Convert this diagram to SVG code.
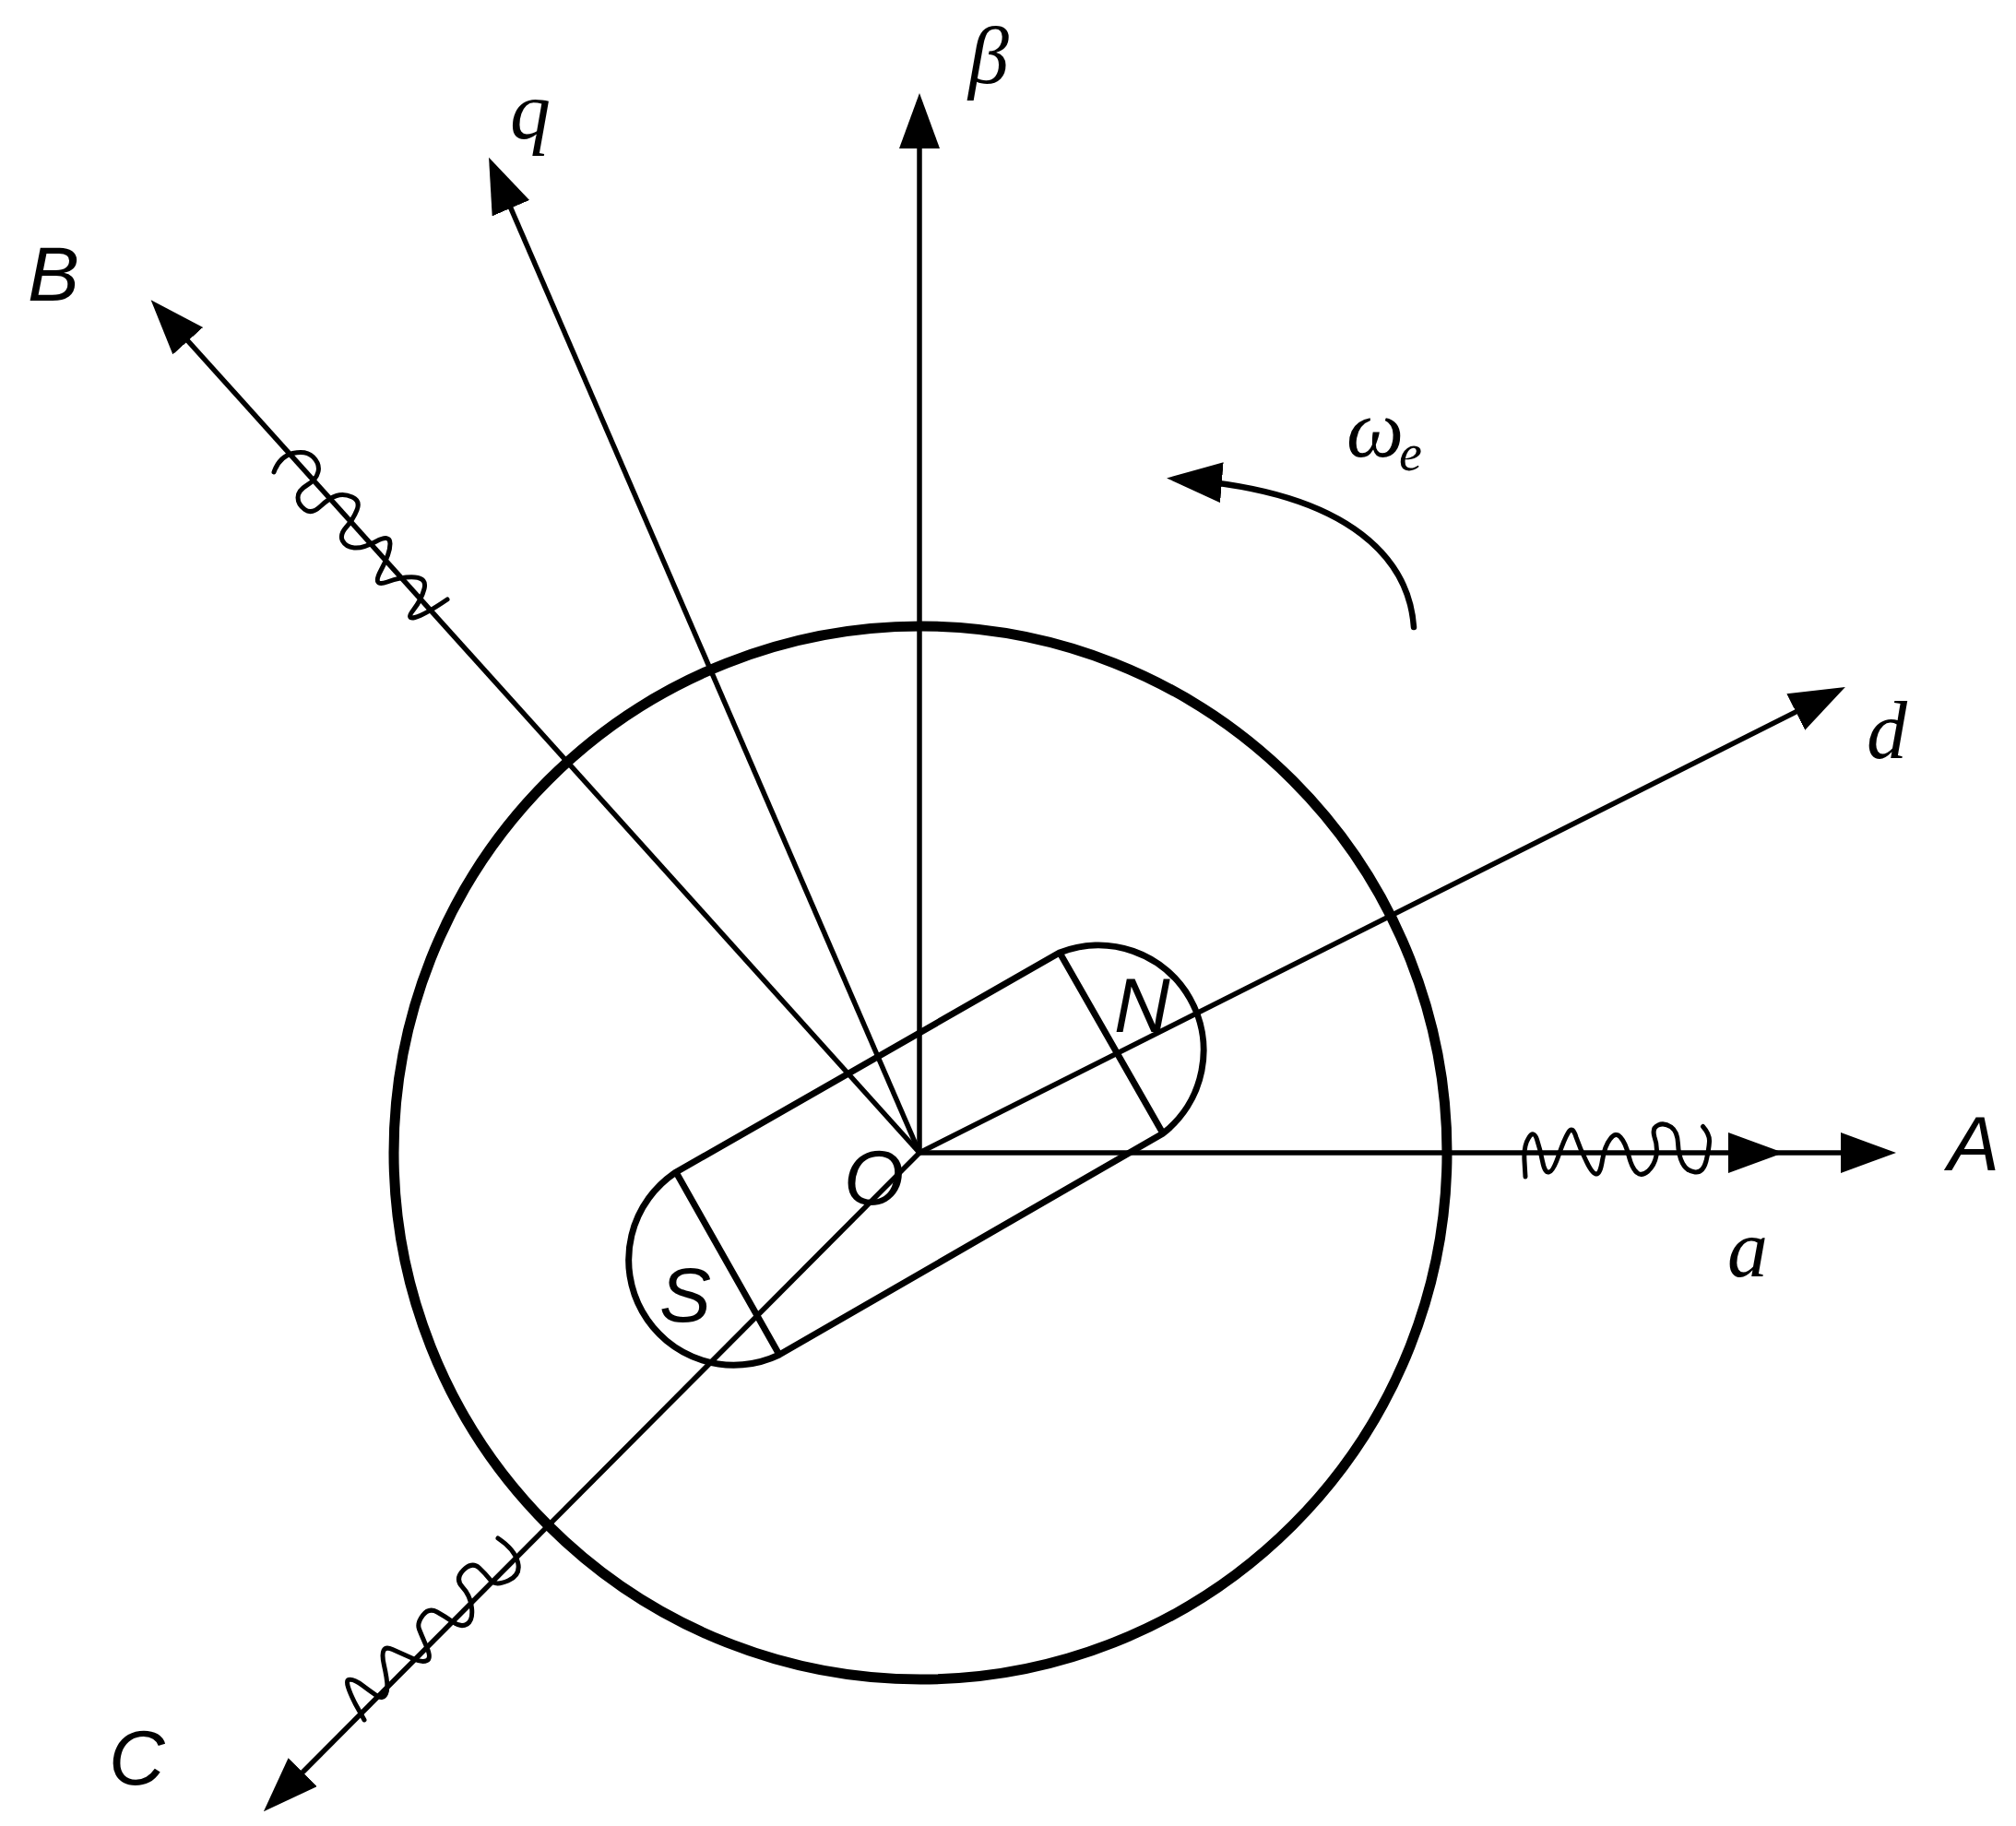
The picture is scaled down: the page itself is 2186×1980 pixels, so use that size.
<svg xmlns="http://www.w3.org/2000/svg" width="2186" height="1980" viewBox="0 0 2186 1980">
<style>
.ax{fill:none;stroke:#000;stroke-width:5.5}
.sq{fill:none;stroke:#000;stroke-width:5;stroke-linecap:round;stroke-linejoin:round}
.s{font-family:"Liberation Sans",sans-serif;font-style:italic;font-size:84px;fill:#000}
.m{font-family:"Liberation Serif",serif;font-style:italic;font-size:88px;fill:#000}
</style>
<defs>
<marker id="ah" markerUnits="userSpaceOnUse" markerWidth="62" markerHeight="46" refX="40" refY="22" orient="auto"><path d="M0 0L60 22L0 44z" fill="#000"/></marker>
</defs>
<rect width="2186" height="1980" fill="#fff"/>
<g id="rotor-circle"><circle cx="998" cy="1250" r="571" fill="none" stroke="#000" stroke-width="11"/></g>
<g id="connectors">
<path class="ax" d="M997 1250V121" marker-end="url(#ah)"/>
<path class="ax" d="M997 1250L538 189" marker-end="url(#ah)"/>
<path class="ax" d="M997 1250L177 340" marker-end="url(#ah)"/>
<path class="ax" d="M997 1250L300 1950" marker-end="url(#ah)"/>
<path class="ax" d="M997 1250L1983 754" marker-end="url(#ah)"/>
<path class="ax" d="M997 1250H1914" marker-end="url(#ah)"/>
<path class="ax" d="M1914 1250H2036" marker-end="url(#ah)"/>
<path d="M1533 680C1528 610 1470 535 1285 520" fill="none" stroke="#000" stroke-width="6.5" stroke-linecap="round" marker-end="url(#ah)"/>
</g>
<g id="winding-a"><path class="sq" d="M1654 1276L1653 1259Q1652 1242.500 1657.500 1234Q1663 1225 1666.500 1235.500Q1670 1246 1672.500 1259Q1675 1272 1679.500 1271Q1684 1270.500 1690 1253Q1696 1235.500 1700.500 1228Q1705 1220 1709 1233Q1713.500 1246 1720 1259Q1726 1272 1730.500 1273Q1735 1274 1737.500 1258Q1740 1242.500 1746 1235Q1752 1227 1757 1233Q1762.500 1239 1766 1253Q1769.500 1267 1775 1271.500Q1780 1276 1787 1270Q1794 1263.500 1796 1253Q1797.500 1242.500 1794 1233Q1791 1223 1798 1220Q1804.500 1217 1812 1222Q1819 1227 1819.500 1240Q1820 1253 1824.500 1261.500Q1829 1270 1838 1271Q1846.500 1272 1850 1259Q1853 1246 1853.500 1238Q1854 1230 1846.500 1221.500"/></g>
<g id="winding-b"><path class="sq" d="M297 512Q303 495 317.500 491.500Q332 488 339.500 495.500Q347 503 345 511.500Q343 520 333 526Q323 532 323 539.500Q323 547 330.500 552.500Q338 558 347.500 549Q357 540 365 537.500Q373 535 382 539Q391 543 387 553Q383 563 375.500 571.500Q368 580 371.500 586.500Q375 593 384 594Q393 595 408 587Q423 579 423 589.500Q423 600 413 618.500Q403 637 420 631Q437 625 450 626Q463 627 460 638.500Q457 650 448.500 661Q440 672 450 669.500Q460 667 485 650"/></g>
<g id="winding-c"><path class="sq" d="M395 1865L385 1847Q373 1823 378 1821.500Q383 1820 393 1827.500Q403 1835 409 1839Q415 1843 418.500 1836.500Q422 1830 416.500 1806Q411 1782 425.500 1788.500Q440 1795 449 1799Q458 1803 463 1800.500Q468 1798 462.500 1785.500Q457 1773 454.500 1766.500Q452 1760 458.500 1751.500Q465 1743 474 1748Q483 1753 491.500 1759Q500 1765 506.500 1761Q513 1757 511.500 1743.500Q510 1730 501.500 1721Q493 1712 502.500 1702.500Q512 1693 519.500 1700Q527 1707 532 1713.500Q537 1720 551 1714Q565 1708 561.500 1694Q558 1680 540 1668"/></g>
<g id="magnet" fill="none" stroke="#000" stroke-width="7">
<path d="M733 1271L1149 1033A114 114 0 0 1 1261 1229L845 1469A114 114 0 0 1 733 1271Z"/>
<path d="M1149 1033L1261 1229M733 1271L845 1469"/>
</g>
<g id="labels">
<text class="m" x="1050" y="90">β</text>
<text class="m" x="553" y="150">q</text>
<text class="s" x="30" y="326">B</text>
<text class="m" x="1460" y="495">ω</text>
<text class="m" x="1517" y="510" font-size="56" style="font-size:56px">e</text>
<text class="m" x="2024" y="822">d</text>
<text class="s" x="2112" y="1269">A</text>
<text class="m" x="1873" y="1384">a</text>
<text class="s" x="118" y="1935">C</text>
<text class="s" x="915" y="1306" transform="rotate(0)">O</text>
<text class="s" x="1208" y="1119">N</text>
<text class="s" x="715" y="1433">S</text>
</g>
</svg>
